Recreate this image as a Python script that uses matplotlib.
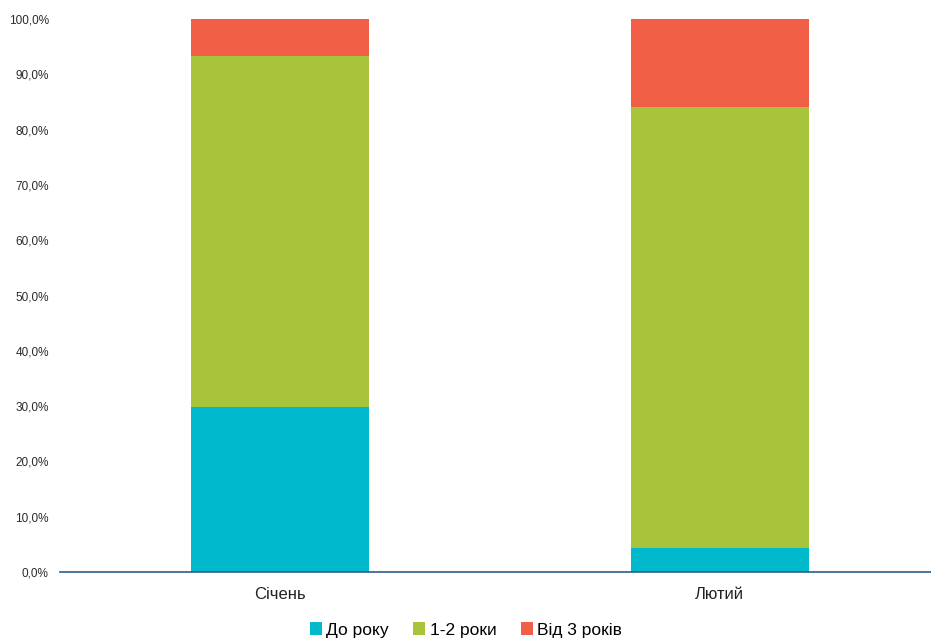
import matplotlib.pyplot as plt
from matplotlib.ticker import FuncFormatter

# Data (percent)
months = ['Січень', 'Лютий']
series_names = ['До року', '1-2 роки', 'Від 3 років']
do_roku = [29.8, 4.4]
odin_dva = [63.5, 79.7]
vid_tryokh = [6.7, 15.9]
colors = ['#00B9CD', '#A8C43A', '#F05E45']

plt.rcParams['font.family'] = ['Liberation Sans', 'DejaVu Sans']

fig = plt.figure(figsize=(9.31, 6.39), dpi=100)
ax = fig.add_axes([0.0644, 0.105, 0.9356, 0.865])

x = range(len(months))
bottom = [0.0, 0.0]
for vals, name, c in zip([do_roku, odin_dva, vid_tryokh], series_names, colors):
    ax.bar(x, vals, width=0.405, bottom=bottom, color=c, label=name)
    bottom = [b + v for b, v in zip(bottom, vals)]

ax.set_xlim(-0.5, 1.48)
ax.set_ylim(0, 100)
ax.set_yticks(range(0, 101, 10))
ax.yaxis.set_major_formatter(FuncFormatter(lambda v, p: f'{v:.1f}%'.replace('.', ',')))
ax.set_xticks(list(x))
ax.set_xticklabels(months, fontsize=12, color='#222222')

for s in ['top', 'right', 'left']:
    ax.spines[s].set_visible(False)
ax.spines['bottom'].set_color('#2E5C8A')
ax.spines['bottom'].set_linewidth(1.2)

ax.tick_params(axis='y', length=0, pad=8, labelsize=8.5, labelcolor='#2a2a2a')
ax.tick_params(axis='x', length=0, pad=11)

ax.legend(loc='center', bbox_to_anchor=(0.466, -0.105), ncol=3, frameon=False,
          fontsize=12.5, handlelength=0.7, handleheight=0.7, handletextpad=0.25,
          columnspacing=1.4, borderaxespad=0)

fig.savefig('out.png', dpi=100)
